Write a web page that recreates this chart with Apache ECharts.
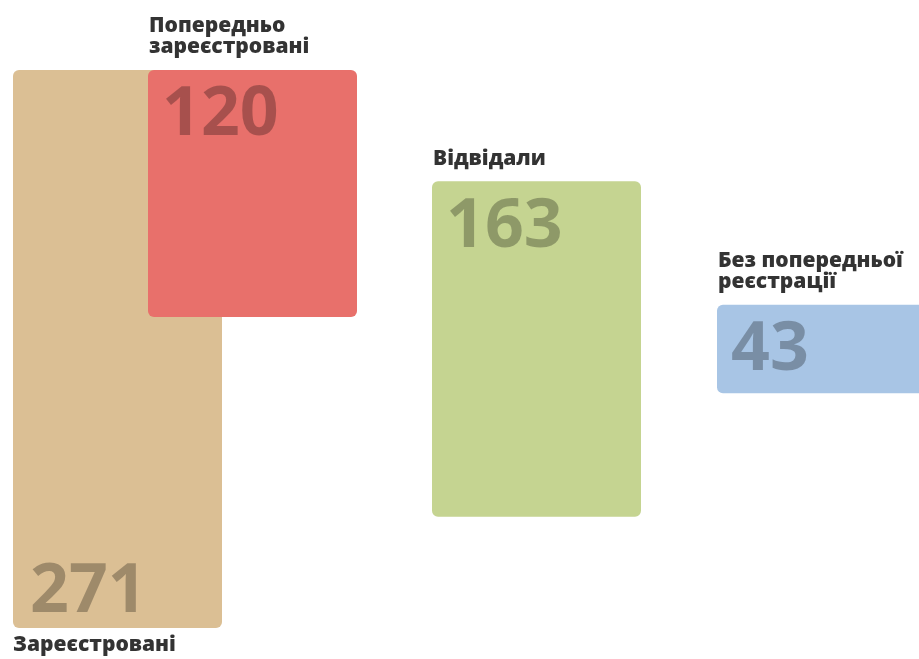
<!DOCTYPE html>
<html>
<head>
<meta charset="utf-8">
<script src="https://cdn.jsdelivr.net/npm/echarts@6/dist/echarts.min.js"></script>
<style>html,body{margin:0;padding:0;background:#fff}#c{width:919px;height:659px}</style>
</head>
<body>
<div id="c"></div>
<script>
// Data
var categories = ['Зареєстровані', 'Попередньо\nзареєстровані', 'Відвідали', 'Без попередньої\nреєстрації'];
var values = [271, 120, 163, 43];

// Layout / styles (not data)
var colors = ['#dbbf94', '#e8706b', '#c5d491', '#a8c5e5'];
var boxLeft = [13, 148, 432, 717];     // pixel x of each box
var boxWidth = 209;
var anchor = ['center', 'topOfFirst', 'center', 'center'];
var labelBelow = [true, false, false, false];
var labelFont = '800 21px "Open Sans"';
var numFont = 'bold 68px "Open Sans"';

var maxV = Math.max.apply(null, values);
var half = maxV / 2;

var chart = echarts.init(document.getElementById('c'), null, {renderer: 'canvas'});

chart.setOption({
  animation: false,
  backgroundColor: '#ffffff',
  grid: {left: 0, right: 0, top: 70, bottom: 31},
  xAxis: {type: 'value', min: 0, max: 919, show: false},
  yAxis: {type: 'value', min: -half, max: half, show: false},
  series: [{
    type: 'custom',
    data: values.map(function (v, i) { return [i, v]; }),
    renderItem: function (params, api) {
      var i = api.value(0);
      var v = api.value(1);
      var topV, botV;
      if (anchor[i] === 'topOfFirst') { topV = half; botV = half - v; }
      else { topV = v / 2; botV = -v / 2; }
      var xPix = api.coord([boxLeft[i], 0])[0];
      var xEnd = api.coord([boxLeft[i] + boxWidth, 0])[0];
      var yTop = api.coord([0, topV])[1];
      var yBot = api.coord([0, botV])[1];
      var children = [{
        type: 'rect',
        shape: {x: xPix, y: yTop, width: xEnd - xPix, height: yBot - yTop, r: 6},
        style: {fill: colors[i]}
      }];
      if (labelBelow[i]) {
        children.push({
          type: 'text',
          style: {text: String(v), x: xPix + 17, y: yBot - 1, font: numFont,
                  fill: 'rgba(0,0,0,0.28)', align: 'left', verticalAlign: 'bottom'}
        });
        children.push({
          type: 'text',
          style: {text: categories[i], x: xPix, y: yBot + 7, font: labelFont,
                  lineHeight: 21, fill: '#333333', align: 'left', verticalAlign: 'top'}
        });
      } else {
        children.push({
          type: 'text',
          style: {text: String(v), x: xPix + 14, y: yTop + 12, font: numFont,
                  fill: 'rgba(0,0,0,0.28)', align: 'left', verticalAlign: 'top'}
        });
        children.push({
          type: 'text',
          style: {text: categories[i], x: xPix + 1, y: yTop - 12, font: labelFont,
                  lineHeight: 21, fill: '#333333', align: 'left', verticalAlign: 'bottom'}
        });
      }
      return {type: 'group', children: children};
    }
  }]
});
</script>
</body>
</html>
